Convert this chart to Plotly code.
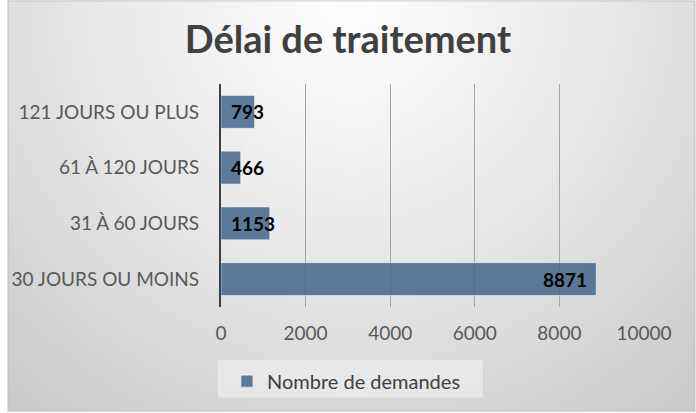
import base64
import plotly.graph_objs as go

# data
categories = ["30 JOURS OU MOINS", "31 À 60 JOURS", "61 À 120 JOURS", "121 JOURS OU PLUS"]
values = [8871, 1153, 466, 793]
series_name = "Nombre de demandes"
title_text = "Délai de traitement"
x_range = [0, 10000]
x_dtick = 2000

W, H = 696, 413
L, R, T, B = 216, 52, 84, 105
PW, PH = W - L - R, H - T - B

FONT = "Lato"
BAR_COLOR = "rgba(68,104,141,0.86)"


def backgroundImage():
    """
    radial gray gradient like the office chart style, as an svg data uri
    """
    svg = f"""<svg xmlns='http://www.w3.org/2000/svg' width='{W}' height='{H}'>
<defs><radialGradient id='g' gradientUnits='userSpaceOnUse' cx='{W/2}' cy='0' r='560'>
<stop offset='0' stop-color='#ffffff'/>
<stop offset='0.5' stop-color='#e6e6e6'/>
<stop offset='1' stop-color='#c6c6c6'/>
</radialGradient></defs>
<rect width='{W}' height='{H}' fill='url(#g)' stroke='#bfbfbf' stroke-width='2'/>
</svg>"""
    src = "data:image/svg+xml;base64," + base64.b64encode(svg.encode()).decode()
    return dict(source=src, xref="paper", yref="paper",
                x=-L / PW, y=1 + T / PH, sizex=W / PW, sizey=H / PH,
                sizing="stretch", layer="below", xanchor="left", yanchor="top")


def labelAnnotations():
    """
    value labels: inside the bar end if they fit, otherwise just after the base
    """
    px_per_unit = PW / (x_range[1] - x_range[0])
    anns = []
    for cat, v in zip(categories, values):
        txt = str(v)
        fits = v * px_per_unit > len(txt) * 11 + 24
        anns.append(dict(
            x=v if fits else 0, y=cat, xref="x", yref="y", text=txt,
            showarrow=False, xanchor="right" if fits else "left",
            xshift=-7 if fits else 8,
            font=dict(family=FONT, size=19, color="#000000", weight="bold")))
    return anns


bar = go.Bar(x=values, y=categories, orientation="h", name=series_name,
             marker=dict(color=BAR_COLOR, line=dict(color="rgba(255,255,255,0.5)", width=1)),
             width=0.59, showlegend=True)

fig = go.Figure(data=[bar])
fig.update_layout(
    width=W, height=H,
    margin=dict(l=L, r=R, t=T, b=B, pad=0),
    paper_bgcolor="rgba(0,0,0,0)", plot_bgcolor="rgba(0,0,0,0)",
    title=dict(text=title_text, x=0.5, xref="container", xanchor="center",
               y=1 - 40 / H, yanchor="middle",
               font=dict(family=FONT, size=38, color="#404040", weight="bold")),
    font=dict(family=FONT, color="#595959"),
    xaxis=dict(range=x_range, dtick=x_dtick, tickformat="d", showgrid=True,
               gridcolor="#a6a6a6", gridwidth=1, zeroline=False, showline=False,
               tickfont=dict(size=19, color="#595959"), ticklabelstandoff=13),
    yaxis=dict(showline=True, linecolor="#404040", linewidth=2, showgrid=False,
               tickfont=dict(size=19, color="#595959"), ticklabelstandoff=16),
    legend=dict(orientation="h", x=(222 - L) / PW, y=-0.245,
                xanchor="left", yanchor="top", bgcolor="rgba(0,0,0,0)",
                font=dict(family=FONT, size=20, color="#404040")),
    images=[backgroundImage()],
    shapes=[dict(type="rect", xref="paper", yref="paper", layer="below",
                 x0=(213 - L) / PW, x1=(481 - L) / PW,
                 y0=(T + PH - 399) / PH, y1=(T + PH - 361) / PH,
                 fillcolor="rgba(235,235,235,0.8)", line=dict(width=0))],
    annotations=labelAnnotations(),
)

fig.write_html("out.html", config={"displayModeBar": False},
               post_script="document.body.style.margin='0';")
